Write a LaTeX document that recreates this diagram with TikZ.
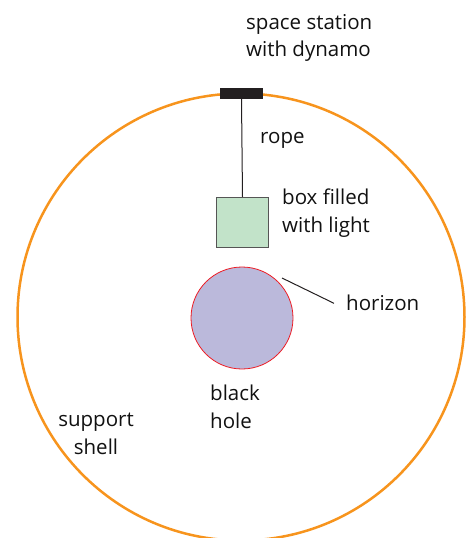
\documentclass[tikz,border=0pt]{standalone}
\usepackage{fontspec}
\setmainfont{Open Sans}
\definecolor{shellorange}{HTML}{F7941D}
\definecolor{textblack}{HTML}{111111}
\definecolor{barblack}{HTML}{231F20}
\definecolor{boxgreen}{HTML}{C2E3C9}
\definecolor{holefill}{HTML}{BBB9DB}
\definecolor{horizonred}{HTML}{ED1C24}
\definecolor{boxedge}{HTML}{555555}
\begin{document}
\begin{tikzpicture}[x=1pt,y=-1pt,
  lbl/.style={inner sep=0pt,text=textblack,font=\fontsize{20.5}{27.5}\selectfont,align=left},
  lblc/.style={lbl,align=center},
  shellline/.style={draw=shellorange,line width=2.5pt},
  stationbar/.style={fill=barblack,draw=none,minimum width=43pt,minimum height=11pt,inner sep=0pt},
  lightbox/.style={fill=boxgreen,draw=boxedge,line width=1.2pt,minimum width=52pt,minimum height=50pt,inner sep=0pt},
  holestyle/.style={circle,fill=holefill,draw=horizonred,line width=0.8pt,minimum size=102pt,inner sep=0pt},
  thinline/.style={draw=barblack,line width=1pt}]
\useasboundingbox (0,0) rectangle (467,538);
\node[circle,shellline,minimum size=447pt,inner sep=0pt] (shell) at (241,317) {};
\node[stationbar] (station) at (241.5,93.5) {};
\node[lightbox] (box) at (242.5,222.5) {};
\draw[thinline] (station.south) -- (box.north);
\node[holestyle] (hole) at (242,318) {};
\node[lbl,anchor=west] (stationlbl) at (246,38) {space station\\with dynamo};
\node[lbl,anchor=base west] (rope) at (260,143) {rope};
\node[lbl,anchor=west] (boxlbl) at (282,213) {box filled\\with light};
\node[lbl,anchor=base west] (horizon) at (346,310) {horizon};
\coordinate (hpt) at (282,278);
\draw[thinline] (hpt) -- ([xshift=-12pt,yshift=-1pt]horizon.west);
\node[lbl,anchor=west] (holelbl) at (210,407) {black\\hole};
\node[lblc] (shelllbl) at (96,434) {support\\shell};
\end{tikzpicture}
\end{document}
